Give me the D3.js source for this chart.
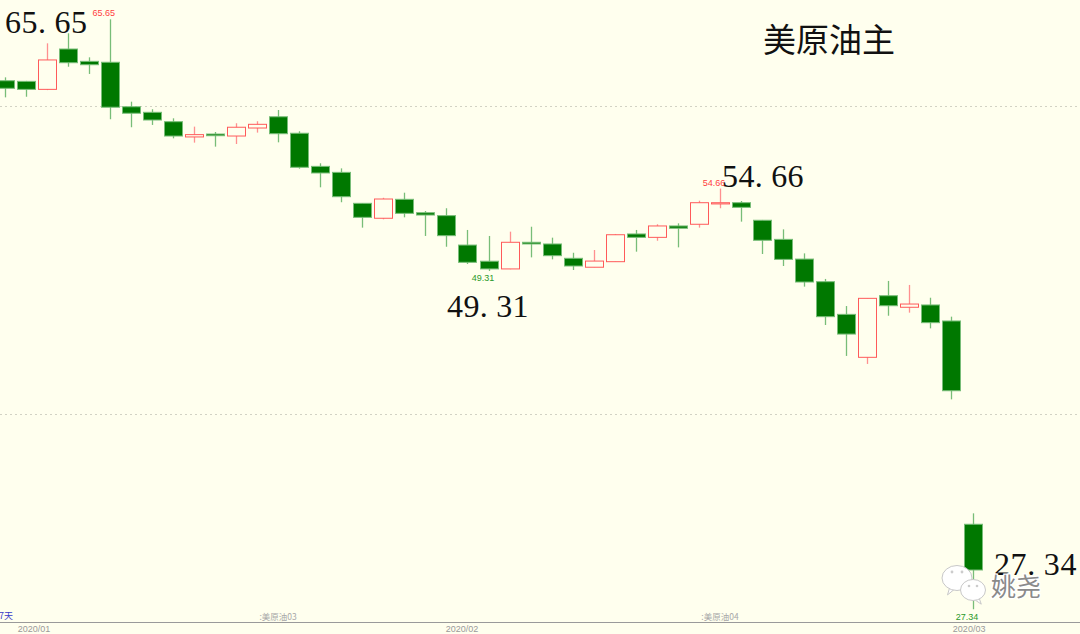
<!DOCTYPE html>
<html><head><meta charset="utf-8">
<script src="https://cdn.jsdelivr.net/npm/d3@7/dist/d3.min.js"></script>
<style>html,body{margin:0;padding:0;background:#ffffee;overflow:hidden}svg{display:block}</style>
</head><body>
<svg id="c" width="1080" height="634"></svg>
<script>
// ---- data ----
const dates = ["12/31","1/2","1/3","1/6","1/7","1/8","1/9","1/10","1/13","1/14","1/15","1/16","1/17","1/21","1/22","1/23","1/24","1/27","1/28","1/29","1/30","1/31",
  "2/3","2/4","2/5","2/6","2/7","2/10","2/11","2/12","2/13","2/14","2/18","2/19","2/20","2/21","2/24","2/25","2/26","2/27","2/28",
  "3/2","3/3","3/4","3/5","3/6","3/9"];
const open  = [61.66,61.62,61.10,63.72,62.92,62.86,59.97,59.61,59.00,58.01,58.20,58.07,58.59,59.32,58.25,56.10,55.71,53.70,52.73,53.96,53.09,52.90,
  50.99,49.94,49.44,51.17,51.06,50.13,49.55,49.91,51.71,51.49,52.23,52.34,53.66,53.74,52.60,51.36,50.08,48.61,46.49,
  43.70,47.70,46.95,47.10,46.06,32.86];
const high  = [61.88,61.65,64.09,64.74,63.18,65.65,60.30,59.81,59.22,58.68,58.33,58.90,59.03,59.76,58.38,56.30,55.97,53.72,54.06,54.39,53.20,53.38,
  51.97,51.58,51.86,52.18,51.47,50.49,50.67,51.71,51.97,52.34,52.40,53.87,54.66,53.85,52.62,52.01,50.45,48.79,47.03,
  47.53,48.66,48.40,47.57,46.34,33.57];
const low   = [60.58,60.62,61.05,62.57,62.10,59.16,58.64,58.79,57.92,57.64,57.38,57.55,58.29,57.66,55.95,54.74,53.77,52.12,52.66,52.79,51.58,50.88,
  49.76,49.31,49.42,50.19,50.06,49.37,49.55,49.90,50.56,51.27,50.84,52.12,53.38,52.51,50.41,49.63,48.29,45.80,43.79,
  43.27,46.40,46.60,45.58,40.97,27.34];
const close = [61.17,61.10,63.01,62.83,62.70,59.94,59.55,59.11,58.07,58.16,58.09,58.64,58.83,58.22,56.04,55.67,54.13,52.79,53.98,53.05,52.94,51.60,
  49.87,49.44,51.17,51.06,50.30,49.63,49.95,51.66,51.49,52.23,52.08,53.74,53.74,53.44,51.30,50.06,48.59,46.34,45.21,
  47.53,47.05,47.16,45.95,41.53,29.89];
const gridValues = [60, 40];
const monthTicks = [{label:"2020/01", at:1.4},{label:"2020/02", at:21.74},{label:"2020/03", at:45.84}];
const contractMarks = [{label:"美原油03", at:13},{label:"美原油04", at:34}];
const highMarks = [5, 34];   // candle indices with high labels
const lowMarks = [23, 46];   // candle indices with low labels
const title = "美原油主";
const bigLabels = ["65.65","54.66","49.31","27.34"];

// ---- drawing ----
const W = 1080, H = 634;
const BG = "#ffffee";
const svg = d3.select("#c");
svg.append("rect").attr("width", W).attr("height", H).attr("fill", BG);

const x = d3.scaleLinear().domain([0, dates.length - 1]).range([4.5, 972.5]);
const y = d3.scaleLinear().domain([40, 60]).range([414.3, 106.3]);
const bw = 18;

// grid
svg.selectAll("line.grid").data(gridValues).join("line")
  .attr("x1", 0).attr("x2", W)
  .attr("y1", d => Math.round(y(d)) + 0.5).attr("y2", d => Math.round(y(d)) + 0.5)
  .attr("stroke", "#d2d2c4").attr("stroke-dasharray", "2,3");

const data = dates.map((d, i) => ({d, i, o: open[i], h: high[i], l: low[i], c: close[i], up: close[i] >= open[i]}));

const GREEN = "#007800", GREEN_L = "#78bd78", RED = "#ff5a5a", RED_L = "#ff9090";

const g = svg.append("g");
// wicks
g.selectAll("line.wick").data(data).join("line")
  .attr("x1", d => Math.round(x(d.i)) + 0.5).attr("x2", d => Math.round(x(d.i)) + 0.5)
  .attr("y1", d => y(d.h)).attr("y2", d => y(d.l))
  .attr("stroke", d => d.up ? RED_L : GREEN_L).attr("stroke-width", 1.3);
// bodies
g.selectAll("rect.body").data(data).join("rect")
  .attr("x", d => Math.round(x(d.i)) - bw / 2 + 0.5)
  .attr("width", bw)
  .attr("y", d => y(Math.max(d.o, d.c)))
  .attr("height", d => Math.max(1, Math.abs(y(d.o) - y(d.c))))
  .attr("fill", d => d.up ? BG : GREEN)
  .attr("stroke", d => d.up ? RED : GREEN_L)
  .attr("stroke-width", 1);

// small high / low labels
svg.selectAll("text.hl").data(highMarks).join("text")
  .attr("x", i => x(i) - 6).attr("y", i => y(high[i]) - 3)
  .attr("text-anchor", "middle").attr("font-family", "Liberation Sans, Arial, sans-serif")
  .attr("font-size", 9).attr("fill", "#ff4040").text(i => high[i].toFixed(2));
svg.selectAll("text.ll").data(lowMarks).join("text")
  .attr("x", i => x(i) - 5.5).attr("y", i => y(low[i]) + 10.5)
  .attr("text-anchor", "middle").attr("font-family", "Liberation Sans, Arial, sans-serif")
  .attr("font-size", 9).attr("fill", "#2a9a2a").text(i => low[i].toFixed(2));

// axis line
svg.append("line").attr("x1", 0).attr("x2", W).attr("y1", 622.5).attr("y2", 622.5)
  .attr("stroke", "#9a9a9a").attr("stroke-width", 1);
svg.selectAll("text.month").data(monthTicks).join("text")
  .attr("x", d => x(d.at)).attr("y", 632).attr("text-anchor", "middle")
  .attr("font-family", "Liberation Sans, Arial, sans-serif").attr("font-size", 9)
  .attr("fill", "#9a9a9a").text(d => d.label);
svg.selectAll("text.contract").data(contractMarks).join("text")
  .attr("x", d => x(d.at)).attr("y", 620).attr("text-anchor", "middle")
  .attr("font-family", "Noto Sans CJK SC, sans-serif").attr("font-size", 8.5)
  .attr("fill", "#a8a8a8").text(d => ":" + d.label);
svg.append("text").attr("x", -1).attr("y", 619)
  .attr("font-family", "Noto Sans CJK SC, sans-serif").attr("font-size", 9)
  .attr("fill", "#3a3ac8").text("7天");

// big annotations (half-width monospaced serif digits)
function mono(str, x0, yb, size, cell) {
  svg.append("text")
    .attr("x", str.split("").map((c, k) => (x0 + k * cell).toFixed(1)).join(" "))
    .attr("y", yb).attr("font-family", "Liberation Serif, Times New Roman, serif")
    .attr("font-size", size).attr("fill", "#111").text(str);
}
mono(bigLabels[0], 5, 33, 32, 16.5);
mono(bigLabels[1], 722, 187, 32, 16.4);
mono(bigLabels[2], 447, 317, 32, 16.4);
mono(bigLabels[3], 994, 575, 32, 16.6);

svg.append("text").attr("x", 763).attr("y", 52)
  .attr("font-family", "Noto Sans CJK SC, sans-serif").attr("font-size", 33)
  .attr("fill", "#111").text(title);

// watermark
const wm = svg.append("g");
function bubble(cx, cy, rx, ry, tailDir) {
  wm.append("path")
    .attr("d", `M${cx + tailDir * rx * 0.5},${cy + ry * 0.8} l${tailDir * 2},${ry * 0.55} l${-tailDir * 7},${-ry * 0.45}`)
    .attr("fill", "#fff").attr("stroke", "#c8c8c8").attr("stroke-width", 1);
  wm.append("ellipse").attr("cx", cx).attr("cy", cy).attr("rx", rx).attr("ry", ry)
    .attr("fill", "#fff").attr("stroke", "#c8c8c8").attr("stroke-width", 1);
}
bubble(957, 578, 15, 12.5, -1);
wm.append("circle").attr("cx", 952).attr("cy", 572).attr("r", 1.4).attr("fill", "#ccc");
wm.append("circle").attr("cx", 962).attr("cy", 572).attr("r", 1.4).attr("fill", "#ccc");
bubble(973, 590, 12.5, 10.5, 1);
wm.append("circle").attr("cx", 969).attr("cy", 586).attr("r", 1.3).attr("fill", "#ccc");
wm.append("circle").attr("cx", 977).attr("cy", 586).attr("r", 1.3).attr("fill", "#ccc");
wm.append("text").attr("x", 991).attr("y", 596)
  .attr("font-family", "Noto Sans CJK SC, sans-serif").attr("font-size", 25)
  .attr("fill", "#8a8a8a").attr("stroke", "#fff").attr("stroke-width", 2.5)
  .attr("paint-order", "stroke").text("姚尧");
</script>
</body></html>
